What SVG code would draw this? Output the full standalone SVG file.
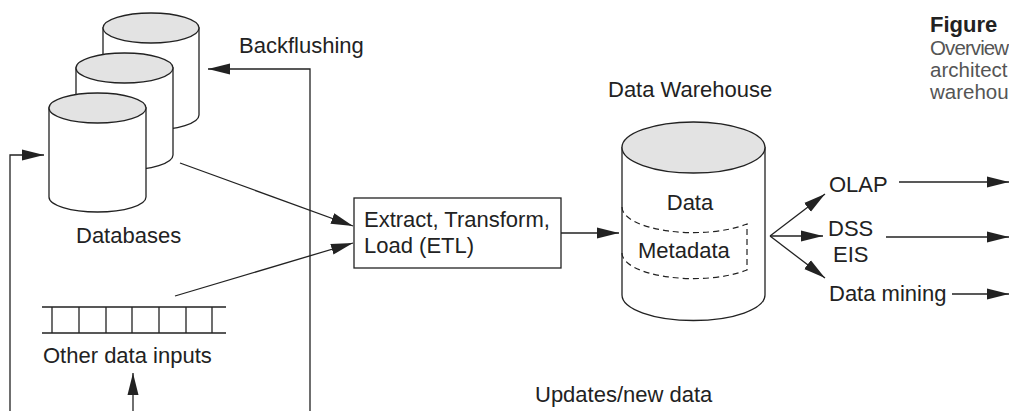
<svg xmlns="http://www.w3.org/2000/svg" width="1009" height="411" viewBox="0 0 1009 411">
<style>
text{font-family:"Liberation Sans",Arial,sans-serif;font-size:22px;fill:#222}
.cap{font-size:20.5px;fill:#555}
.fig{font-size:22px;font-weight:bold;fill:#222}
.ln{fill:none;stroke:#222;stroke-width:1.3}
.body{fill:#fff;stroke:#222;stroke-width:1.3}
.top{fill:#e3e3e3;stroke:#222;stroke-width:1.3}
.dash{fill:none;stroke:#222;stroke-width:1.2;stroke-dasharray:6 4}
</style>
<defs>
<marker id="ah" markerUnits="userSpaceOnUse" markerWidth="22" markerHeight="12" refX="22" refY="6" orient="auto">
<path d="M0,0.5 L22,6 L0,11.5 Z" fill="#222"/>
</marker>
</defs>
<g id="databases">
<path class="body" d="M103,28 L103,115 A48,15 0 0 0 199,115 L199,28 Z"/>
<ellipse class="top" cx="151" cy="28" rx="48" ry="15"/>
<path class="body" d="M76,68 L76,155 A48.5,15 0 0 0 173,155 L173,68 Z"/>
<ellipse class="top" cx="124.5" cy="68" rx="48.5" ry="15"/>
<path class="body" d="M49,108 L49,197 A48.5,15 0 0 0 146,197 L146,108 Z"/>
<ellipse class="top" cx="97.5" cy="108" rx="48.5" ry="15"/>
<text x="76" y="243">Databases</text>
</g>
<g id="other-inputs">
<path class="ln" d="M42,307 H226 M42,333 H226 M52,307 V333 M79,307 V333 M106,307 V333 M132,307 V333 M159,307 V333 M186,307 V333 M212,307 V333"/>
<text x="43" y="363">Other data inputs</text>
</g>
<g id="etl">
<rect x="354" y="198" width="207" height="70" fill="#fff" stroke="#222" stroke-width="1.3"/>
<text x="364" y="227">Extract, Transform,</text>
<text x="364" y="253">Load (ETL)</text>
</g>
<g id="warehouse">
<text x="608" y="97">Data Warehouse</text>
<path class="body" d="M622,147.5 L622,295 A71.5,25.5 0 0 0 765,295 L765,147.5 Z"/>
<ellipse class="top" cx="693.5" cy="147.5" rx="71.5" ry="25.5"/>
<path class="dash" d="M622,207 A71.5,25.5 0 0 0 747,224 L747,270 A71.5,25.5 0 0 1 622,253"/>
<text x="690" y="210" text-anchor="middle">Data</text>
<text x="638" y="258">Metadata</text>
</g>
<g id="outputs">
<text x="829" y="192">OLAP</text>
<text x="828" y="236">DSS</text>
<text x="833" y="262">EIS</text>
<text x="829" y="301">Data mining</text>
</g>
<g id="labels">
<text x="239" y="53">Backflushing</text>
<text x="535" y="402">Updates/new data</text>
</g>
<g id="caption">
<text class="fig" x="930" y="32">Figure</text>
<text class="cap" x="930" y="55" letter-spacing="-0.9">Overview</text>
<text class="cap" x="930" y="77">architect</text>
<text class="cap" x="930" y="99">warehou</text>
</g>
<g id="connectors">
<path class="ln" marker-end="url(#ah)" d="M180,163 L353,226"/>
<path class="ln" marker-end="url(#ah)" d="M175,296 L353,243"/>
<path class="ln" marker-end="url(#ah)" d="M561,233 L619,233"/>
<path class="ln" marker-end="url(#ah)" d="M770,236 L825,194"/>
<path class="ln" marker-end="url(#ah)" d="M770,236 L823,236"/>
<path class="ln" marker-end="url(#ah)" d="M770,236 L825,278"/>
<path class="ln" marker-end="url(#ah)" d="M899,182 L1009,182"/>
<path class="ln" marker-end="url(#ah)" d="M886,237 L1009,237"/>
<path class="ln" marker-end="url(#ah)" d="M952,294 L1009,294"/>
<path class="ln" marker-end="url(#ah)" d="M310,411 L310,69 L208,69"/>
<path class="ln" marker-end="url(#ah)" d="M10,411 L10,155 L44,155"/>
<path class="ln" marker-end="url(#ah)" d="M133,411 L133,373"/>
</g>
</svg>
